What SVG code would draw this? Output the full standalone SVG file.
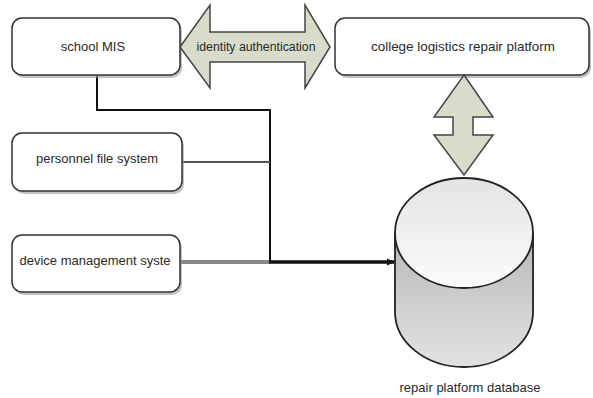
<svg xmlns="http://www.w3.org/2000/svg" width="593" height="398" viewBox="0 0 593 398">
<style>
.box{fill:#fff;stroke:#333;stroke-width:1.5}
.shadow{fill:#9a9a9a;opacity:0.6}
.lbl{font-family:"Liberation Sans",Arial,sans-serif;font-size:13px;fill:#2a2a2a;text-anchor:middle}
.arr{fill:#dadccb;stroke:#444;stroke-width:1.5;stroke-linejoin:miter}
</style>
<defs>
<linearGradient id="gTop" x1="0" y1="0" x2="0" y2="1">
<stop offset="0" stop-color="#e4e4e4"/><stop offset="1" stop-color="#fbfbfb"/>
</linearGradient>
<linearGradient id="gBody" x1="0" y1="0" x2="0" y2="1">
<stop offset="0" stop-color="#b9b9b9"/><stop offset="1" stop-color="#e2e2e2"/>
</linearGradient>
<marker id="ah" markerWidth="8" markerHeight="8" refX="7" refY="4" orient="auto" markerUnits="userSpaceOnUse">
<path d="M0,0.5 L8,4 L0,7.5 z" fill="#111"/>
</marker>
</defs>
<g id="connectors" fill="none">
<polyline points="97,76 97,110 270,110 270,262" stroke="#111" stroke-width="2"/>
<line x1="182" y1="162" x2="270" y2="162" stroke="#555" stroke-width="2"/>
<line x1="180" y1="262" x2="270" y2="262" stroke="#888" stroke-width="4"/>
<line x1="269" y1="262" x2="394" y2="262" stroke="#111" stroke-width="3.5" marker-end="url(#ah)"/>
</g>
<g id="school-mis">
<rect class="shadow" x="14" y="21" width="168" height="57" rx="10"/>
<rect class="box" x="12" y="18" width="168" height="57" rx="10"/>
<text class="lbl" x="93" y="51">school MIS</text>
</g>
<g id="college-platform">
<rect class="shadow" x="337" y="21" width="254" height="57" rx="10"/>
<rect class="box" x="335" y="18" width="254" height="57" rx="10"/>
<text class="lbl" x="463" y="51" style="font-size:13.4px">college logistics repair platform</text>
</g>
<g id="personnel-file-system">
<rect class="shadow" x="14" y="136" width="170" height="58" rx="10"/>
<rect class="box" x="12" y="133" width="170" height="58" rx="10"/>
<text class="lbl" x="97" y="163">personnel file system</text>
</g>
<g id="device-management">
<rect class="shadow" x="14" y="238" width="168" height="57" rx="10"/>
<rect class="box" x="12" y="235" width="168" height="57" rx="10"/>
<text class="lbl" x="95" y="265">device management syste</text>
</g>
<g id="identity-authentication">
<polygon class="arr" points="180,47 210,5 210,32 305,32 305,5 330,47 305,88 305,62 210,62 210,88"/>
<text class="lbl" x="256" y="51" style="font-size:12.3px">identity authentication</text>
</g>
<g id="vertical-arrow">
<polygon class="arr" points="464,75 493,117 473,117 473,135 493,135 464,175 434,135 453,135 453,117 434,117"/>
</g>
<g id="repair-platform-database">
<path d="M395,233 L395,312 A69,55 0 0 0 533,312 L533,233 z" fill="url(#gBody)" stroke="#222" stroke-width="1.8"/>
<ellipse cx="464" cy="233" rx="69" ry="55" fill="url(#gTop)" stroke="#222" stroke-width="1.8"/>
<text class="lbl" x="470" y="392">repair platform database</text>
</g>
</svg>
